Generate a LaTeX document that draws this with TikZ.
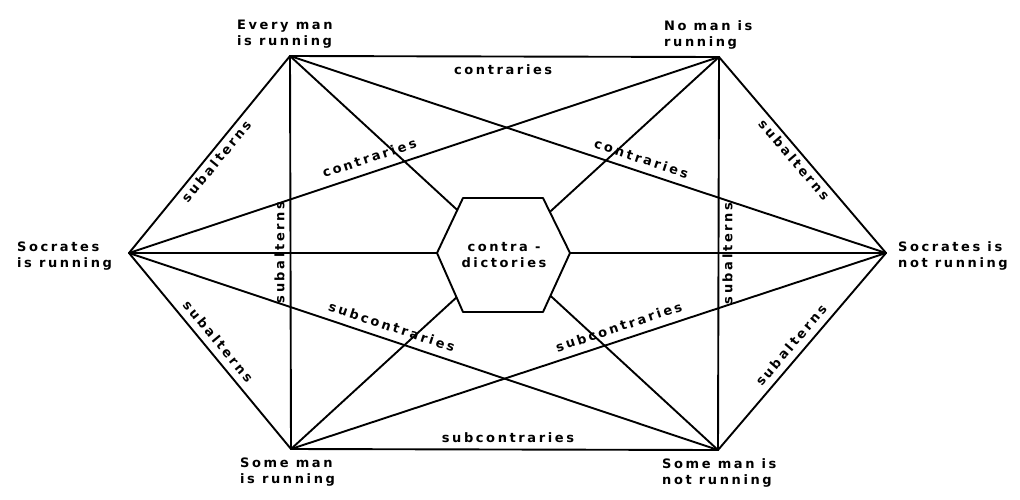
\documentclass[tikz,border=0pt]{standalone}
\usepackage{fontspec}
\newfontfamily\labfont[LetterSpace=20]{DejaVu Sans}
\tikzset{
  lab/.style={font=\labfont\bfseries\fontsize{13}{16}\selectfont, inner sep=0pt},
  vlab/.style={lab, align=left, anchor=north west},
  elab/.style={lab, sloped},
  ln/.style={line width=1.9pt, line cap=round, line join=round}
}
\begin{document}
\begin{tikzpicture}[x=1pt,y=-1pt]
\useasboundingbox (0,0) rectangle (1020,499);
% vertices
\coordinate (A) at (290,56);
\coordinate (E) at (719,57);
\coordinate (L) at (129,253);
\coordinate (R) at (886,253);
\coordinate (I) at (291,449);
\coordinate (O) at (718,450);
% vertex labels
\node[vlab] (tA) at (237,20) {Every man\\is running};
\node[vlab] (tE) at (664,20) {No man is\\running};
\node[vlab] (tL) at (17,242) {Socrates\\is running};
\node[vlab] (tR) at (898,241) {Socrates is\\not running};
\node[vlab] (tI) at (240,458) {Some man\\is running};
\node[vlab] (tO) at (662,458) {Some man is\\not running};
% contradictories (through the centre)
\draw[ln] (A) -- (O);
\draw[ln] (E) -- (I);
\draw[ln] (L) -- (R);
% contraries
\draw[ln] (A) -- (E) node[elab, pos=0.497, anchor=north, inner ysep=7pt] (c1) {contraries};
\draw[ln] (L) -- (E) node[elab, pos=0.415, anchor=south, inner ysep=8.5pt] (c2) {contraries};
\draw[ln] (A) -- (R) node[elab, pos=0.583, anchor=south, inner ysep=7pt] (c3) {contraries};
% subcontraries
\draw[ln] (I) -- (O) node[elab, pos=0.508, anchor=south, inner ysep=6pt] (s1) {subcontraries};
\draw[ln] (L) -- (O) node[elab, pos=0.439, anchor=south, inner ysep=7.5pt] (s2) {subcontraries};
\draw[ln] (I) -- (R) node[elab, pos=0.558, anchor=south, inner ysep=7.5pt] (s3) {subcontraries};
% subalterns
\draw[ln] (L) -- (A) node[elab, pos=0.496, anchor=north, inner ysep=3.6pt] (a1) {subalterns};
\draw[ln] (E) -- (R) node[elab, pos=0.494, anchor=north, inner ysep=3.6pt] (a2) {subalterns};
\draw[ln] (L) -- (I) node[elab, pos=0.491, anchor=south, inner ysep=6.5pt] (a3) {subalterns};
\draw[ln] (O) -- (R) node[elab, pos=0.491, anchor=south, inner ysep=6.5pt] (a4) {subalterns};
\draw[ln] (A) -- (I) node[lab, pos=0.5, rotate=90, anchor=south, inner ysep=5pt] (a5) {subalterns};
\draw[ln] (E) -- (O) node[lab, pos=0.5, rotate=90, anchor=north, inner ysep=3pt] (a6) {subalterns};
% centre hexagon
\filldraw[ln, fill=white] (437,253) -- (463,198) -- (543,198) -- (570,253) -- (543,312) -- (463,312) -- cycle;
\node[lab, align=center] (C) at (504,255) {contra -\\dictories};
\end{tikzpicture}
\end{document}
